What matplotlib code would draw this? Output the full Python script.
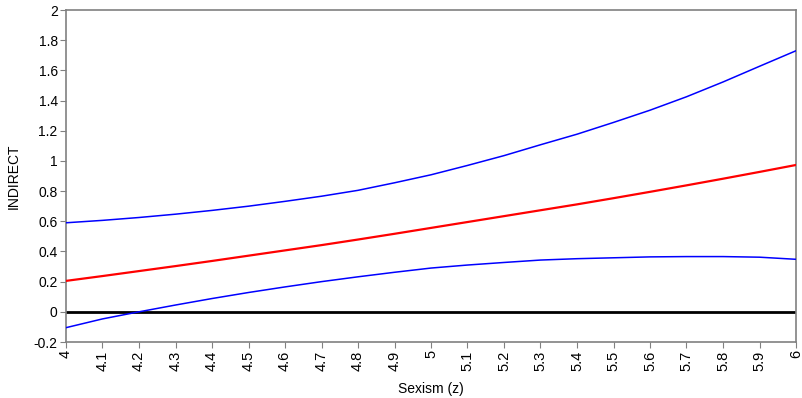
import matplotlib
matplotlib.use("Agg")
import matplotlib.pyplot as plt

plt.rcParams['font.family'] = ['Liberation Sans', 'DejaVu Sans']

# Sexism (z) values
sexism = [4.0, 4.1, 4.2, 4.3, 4.4, 4.5, 4.6, 4.7, 4.8, 4.9, 5.0,
          5.1, 5.2, 5.3, 5.4, 5.5, 5.6, 5.7, 5.8, 5.9, 6.0]
# indirect effect and confidence bounds
effect = [0.205, 0.237, 0.27, 0.303, 0.337, 0.372, 0.407, 0.442, 0.479, 0.517, 0.556,
          0.595, 0.634, 0.673, 0.712, 0.753, 0.795, 0.838, 0.882, 0.927, 0.973]
upper = [0.59, 0.606, 0.625, 0.647, 0.672, 0.70, 0.732, 0.766, 0.805, 0.855, 0.908,
         0.97, 1.035, 1.107, 1.177, 1.255, 1.336, 1.425, 1.523, 1.627, 1.73]
lower = [-0.105, -0.047, 0.0, 0.045, 0.088, 0.128, 0.165, 0.2, 0.232, 0.262, 0.29,
         0.31, 0.327, 0.343, 0.352, 0.358, 0.364, 0.366, 0.366, 0.362, 0.348]

xticks = [4, 4.1, 4.2, 4.3, 4.4, 4.5, 4.6, 4.7, 4.8, 4.9, 5,
          5.1, 5.2, 5.3, 5.4, 5.5, 5.6, 5.7, 5.8, 5.9, 6]
xlabels = ["4", "4.1", "4.2", "4.3", "4.4", "4.5", "4.6", "4.7", "4.8", "4.9", "5",
           "5.1", "5.2", "5.3", "5.4", "5.5", "5.6", "5.7", "5.8", "5.9", "6"]
yticks = [-0.2, 0, 0.2, 0.4, 0.6, 0.8, 1, 1.2, 1.4, 1.6, 1.8, 2]
ylabels = ["-0.2", "0", "0.2", "0.4", "0.6", "0.8", "1", "1.2", "1.4", "1.6", "1.8", "2"]

fig = plt.figure(figsize=(8.03, 3.98), dpi=100)
ax = fig.add_axes([66/803, 56/398, 730/803, 332/398])

ax.axhline(0, color='black', lw=2, zorder=2)
ax.plot(sexism, upper, color='#0000ff', lw=1.1, zorder=3)
ax.plot(sexism, lower, color='#0000ff', lw=1.1, zorder=3)
ax.plot(sexism, effect, color='#ff0000', lw=1.6, zorder=3)

ax.set_xlim(4, 6)
ax.set_ylim(-0.2, 2)
ax.set_xticks(xticks)
ax.set_xticklabels(xlabels, rotation=90, fontsize=10.5)
ax.set_yticks(yticks)
ax.set_yticklabels(ylabels, fontsize=10)
ax.tick_params(direction='out', length=4, color='#808080', pad=2)

for s in ax.spines.values():
    s.set_color('#808080')
    s.set_linewidth(1.2)

ax.set_xlabel("Sexism (z)", fontsize=10, labelpad=8)
ax.set_ylabel("INDIRECT", fontsize=10, labelpad=9)

fig.savefig("out.png", dpi=100)
